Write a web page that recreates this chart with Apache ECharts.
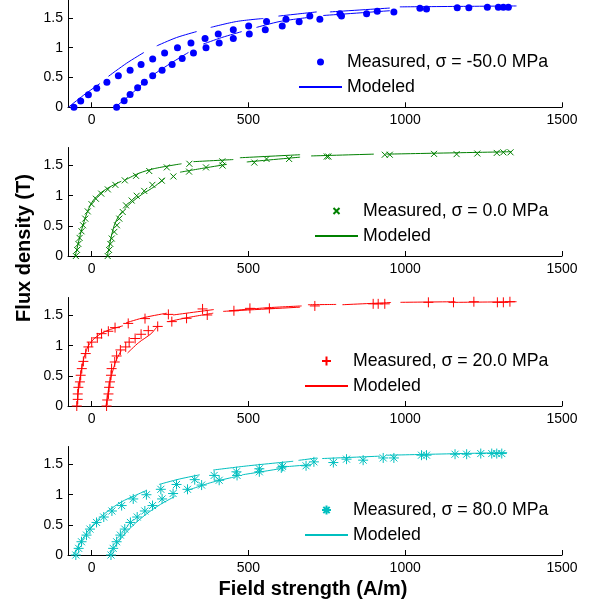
<!DOCTYPE html>
<html><head><meta charset="utf-8">
<script src="https://cdn.jsdelivr.net/npm/echarts@6/dist/echarts.min.js"></script>
<style>html,body{margin:0;padding:0;background:#fff}#c{width:590px;height:606px}</style>
</head><body><div id="c"></div>
<script>
// ---- tick labels ----
const xTicks = [0, 500, 1000, 1500];
const yTicks = [0, 0.5, 1, 1.5];

// ---- legend names ----
const measuredNames = ['Measured, \u03c3 = -50.0 MPa', 'Measured, \u03c3 = 0.0 MPa', 'Measured, \u03c3 = 20.0 MPa', 'Measured, \u03c3 = 80.0 MPa'];
const modeledName = 'Modeled';

// ---- measured data: sigma = -50 MPa ----
const m50H = [-56,-34.5,-10,16.5,49,85.5,123,158,195,233,274,317,362,404,452,501,558,620,
  80,104,123,147,168.5,195,225,257,289,325,365,407,452,503,554,608,
  662,696,728,792,797,877,911,964,1047,1068,1166,1203,1262,1297,1313,1329];
const m50B = [0,0.105,0.21,0.32,0.42,0.53,0.62,0.72,0.81,0.91,1.0,1.08,1.155,1.23,1.30,1.365,1.44,1.475,
  0,0.11,0.215,0.326,0.42,0.53,0.62,0.72,0.82,0.91,1.0,1.08,1.155,1.23,1.30,1.365,
  1.436,1.53,1.475,1.57,1.53,1.57,1.61,1.60,1.66,1.65,1.67,1.67,1.68,1.68,1.68,1.68];
// ---- measured data: sigma = 0 MPa ----
const m0H = [-50,-46,-42,-38,-32,-27,-20,-12,0,14,31,52,76,106,142,184,240,312,417,
  51.5,56,60,64.4,72.7,81,88.6,99.4,110,128,144,168,194,224,261,311,365,418,519,558,630,
  750,755,935,951,1092,1164,1230,1292,1313,1336];
const m0B = [0,0.10,0.20,0.30,0.41,0.51,0.62,0.74,0.86,0.95,1.035,1.105,1.18,1.255,1.33,1.41,1.47,1.53,1.57,
  0,0.10,0.2,0.29,0.40,0.51,0.62,0.73,0.84,0.92,1.0,1.08,1.18,1.25,1.32,1.40,1.47,1.50,1.55,1.61,1.61,
  1.65,1.65,1.68,1.68,1.694,1.69,1.70,1.71,1.72,1.72];
// ---- measured data: sigma = 20 MPa ----
const m20H = [-47,-44,-44,-42,-37,-34.5,-31,-26,-18.5,-10,0.6,18.5,32,53.6,75,117,170.5,245,354,454,505,567,
  48,50,54,56,59,62,64,74,80,92,109,120,139,158,181,211,256,303,369,
  712,898,914,935,1074,1154,1219,1294,1313,1334];
const m20B = [0,0.11,0.20,0.31,0.40,0.51,0.62,0.74,0.87,0.98,1.06,1.13,1.2,1.24,1.30,1.37,1.45,1.52,1.61,1.58,1.62,1.62,
  0,0.10,0.20,0.31,0.40,0.51,0.62,0.73,0.83,0.93,0.98,1.06,1.12,1.19,1.25,1.32,1.40,1.455,1.51,
  1.66,1.695,1.695,1.695,1.72,1.72,1.73,1.72,1.72,1.73];
// ---- measured data: sigma = 80 MPa ----
const m80H = [-50,-41,-32,-16,-5,16,39,65,96,133,175,221,271,329,391,462,535,609,
  62,69,80,92,106,124,145.6,170,194.5,225,260,306,351,407,464,535,605,
  684,709,771,813,866,930,964,1052,1068,1159,1196,1241,1276,1292,1308];
const m80B = [0,0.11,0.22,0.33,0.43,0.54,0.63,0.73,0.82,0.93,1.00,1.09,1.17,1.25,1.32,1.38,1.43,1.47,
  0,0.11,0.22,0.33,0.43,0.54,0.63,0.73,0.82,0.93,1.02,1.09,1.16,1.24,1.32,1.38,1.445,
  1.48,1.545,1.534,1.59,1.573,1.61,1.61,1.656,1.656,1.672,1.672,1.683,1.683,1.683,1.683];

// ---- modeled curves (segments of [H, B]) ----
const mod50 = [
  [[-74,0],[-26,0.20],[27,0.40]],
  [[54,0.52],[112,0.74],[167,0.92]],
  [[208,1.03],[271,1.17],[335,1.27]],
  [[380,1.34],[463,1.44],[548,1.49]],
  [[596,1.53],[665,1.57],[718,1.60]],
  [[760,1.60],[951,1.665]],
  [[983,1.685],[1355,1.70]],
  [[75,0],[128,0.23],[176,0.46]],
  [[192,0.53],[250,0.73],[309,0.92]],
  [[356,1.06],[415,1.17],[479,1.27]],
  [[526,1.34],[601,1.44],[696,1.51]],
  [[739,1.54],[951,1.62]]
];
const mod0 = [
  [[-52,0],[-45,0.15],[-36,0.35],[-25,0.55],[-12,0.75],[5,0.92],[30,1.05],[60,1.15],[95,1.24]],
  [[107,1.26],[150,1.37],[200,1.45],[287,1.53]],
  [[325,1.565],[452,1.60]],
  [[473,1.63],[665,1.68]],
  [[700,1.66],[900,1.69]],
  [[940,1.69],[1340,1.73]],
  [[50,0],[55,0.12],[62,0.3],[72,0.5],[85,0.65],[100,0.75]],
  [[105,0.78],[130,0.9],[160,1.02],[200,1.15],[234,1.29]],
  [[282,1.39],[360,1.46],[431,1.52]],
  [[495,1.56],[665,1.64]]
];
const mod20 = [
  [[-46,0],[-43,0.2],[-38,0.4],[-32,0.6],[-24,0.8],[-12,0.98],[5,1.1],[30,1.2],[60,1.27],[100,1.33]],
  [[110,1.38],[170,1.47],[240,1.54]],
  [[260,1.51],[390,1.60]],
  [[440,1.58],[560,1.63],[670,1.66]],
  [[690,1.68],[780,1.685]],
  [[800,1.68],[955,1.717]],
  [[985,1.72],[1160,1.73]],
  [[1170,1.72],[1355,1.73]],
  [[46,0],[52,0.2],[58,0.4],[66,0.55],[78,0.75],[95,0.92]],
  [[115,0.88],[150,1.05],[190,1.2],[208,1.31]],
  [[245,1.40],[310,1.47],[388,1.54]],
  [[420,1.57],[665,1.64]]
];
const mod80 = [
  [[-58,0],[-40,0.17],[-15,0.37],[15,0.56],[50,0.72],[95,0.88],[140,0.99],[175,1.07]],
  [[215,1.17],[280,1.26],[345,1.33]],
  [[388,1.41],[500,1.48],[643,1.555]],
  [[660,1.57],[720,1.61]],
  [[735,1.60],[920,1.64]],
  [[940,1.655],[1325,1.70]],
  [[55,0],[90,0.25],[130,0.48],[175,0.68],[220,0.84],[265,0.97]],
  [[300,1.06],[380,1.20],[460,1.30]],
  [[480,1.33],[600,1.43]],
  [[610,1.46],[700,1.50]]
];

// ---- styling ----
const FONT = '"Liberation Sans", Arial, sans-serif';
const panels = [
  {H:m50H, B:m50B, model:mod50, color:'#0000ff', symbol:'circle', size:7, top:-1.2, lgLeft:298, lgTop:53, lgIcon:7},
  {H:m0H, B:m0B, model:mod0, color:'#008000', symbol:'path://M0,0L10,10M10,0L0,10', size:6, top:147.5, lgLeft:314, lgTop:202, lgIcon:6},
  {H:m20H, B:m20B, model:mod20, color:'#ff0000', symbol:'path://M5,0L5,10M0,5L10,5', size:10, top:297.5, lgLeft:304, lgTop:352, lgIcon:9},
  {H:m80H, B:m80B, model:mod80, color:'#00bfbf', symbol:'path://M5,0L5,10M0,5L10,5M1.5,1.5L8.5,8.5M8.5,1.5L1.5,8.5', size:10, top:446.5, lgLeft:304, lgTop:501, lgIcon:9}
];

function joinSegs(segs){
  const out = [];
  segs.forEach((s,k)=>{ if(k) out.push(['-','-']); s.forEach(p=>out.push(p)); });
  return out;
}

const grid=[], xAxis=[], yAxis=[], series=[], legend=[];
panels.forEach((p,i)=>{
  grid.push({left:68, width:494, top:p.top, height:108.5});
  xAxis.push({gridIndex:i, type:'value', min:-75, max:1500,
    axisLine:{show:true, onZero:false, lineStyle:{color:'#000', width:1}},
    axisTick:{show:true, inside:true, length:5, customValues:xTicks, lineStyle:{color:'#000'}},
    axisLabel:{customValues:xTicks, formatter:v=>String(v), color:'#000', fontSize:14, fontFamily:FONT, margin:6},
    splitLine:{show:false}});
  yAxis.push({gridIndex:i, type:'value', min:0, max:1.8,
    axisLine:{show:true, onZero:false, lineStyle:{color:'#000', width:1}},
    axisTick:{show:true, inside:true, length:5, customValues:yTicks, lineStyle:{color:'#000'}},
    axisLabel:{customValues:yTicks, formatter:v=>String(v), color:'#000', fontSize:14, fontFamily:FONT, margin:5},
    splitLine:{show:false}});
  const isPath = p.symbol.indexOf('path://')===0;
  series.push({type:'scatter', name:measuredNames[i], xAxisIndex:i, yAxisIndex:i,
    data:p.H.map((h,k)=>[h,p.B[k]]), symbol:p.symbol, symbolSize:p.size,
    itemStyle:{color:p.color, borderColor:p.color, borderWidth:isPath?1:0, opacity:1}, z:3, animation:false});
  series.push({type:'line', name:modeledName+'#'+i, xAxisIndex:i, yAxisIndex:i,
    data:joinSegs(p.model), symbol:'none', showSymbol:false, connectNulls:false, smooth:0.3,
    lineStyle:{color:p.color, width:1}, itemStyle:{color:p.color}, z:2, animation:false});
  legend.push({selectedMode:false, orient:'vertical', left:p.lgLeft, top:p.lgTop, padding:0,
    itemWidth:43, itemHeight:p.lgIcon, itemGap:7,
    data:[measuredNames[i], {name:modeledName+'#'+i, itemStyle:{color:'rgba(0,0,0,0)', borderWidth:0, opacity:0}}],
    formatter:n=>n.split('#')[0],
    textStyle:{fontSize:17.7, fontFamily:FONT, color:'#000', lineHeight:18}});
});

const chart = echarts.init(document.getElementById('c'), null, {renderer:'canvas'});
chart.setOption({
  animation:false, backgroundColor:'#fff',
  grid, xAxis, yAxis, series, legend,
  graphic:[
    {type:'text', x:24, y:248, rotation:Math.PI/2,
      style:{text:'Flux density (T)', fontSize:20, fontWeight:'bold', fontFamily:FONT, fill:'#000', align:'center', verticalAlign:'middle'}},
    {type:'text', x:313, y:589,
      style:{text:'Field strength (A/m)', fontSize:20, fontWeight:'bold', fontFamily:FONT, fill:'#000', align:'center', verticalAlign:'middle'}}
  ]
});
</script></body></html>
